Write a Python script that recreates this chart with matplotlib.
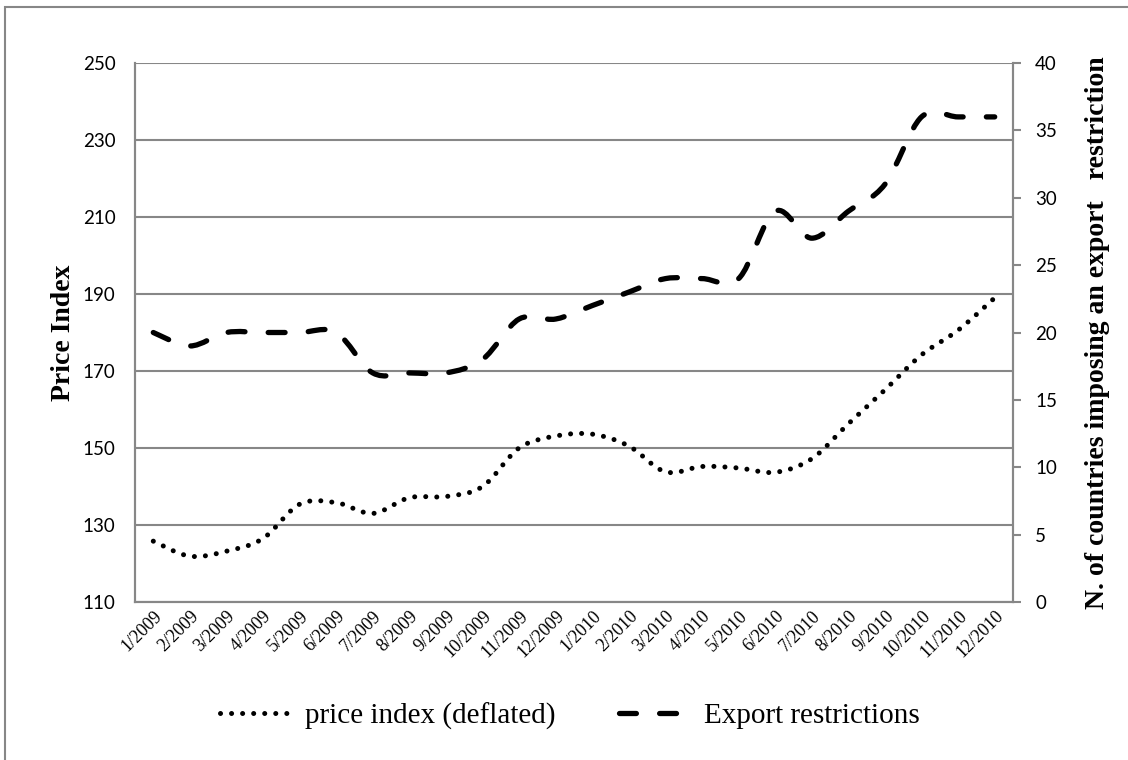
import matplotlib
matplotlib.use("Agg")
import matplotlib.pyplot as plt
from matplotlib.path import Path
from matplotlib.patches import PathPatch, Rectangle
from matplotlib.lines import Line2D
import numpy as np

# data
months = ["1/2009", "2/2009", "3/2009", "4/2009", "5/2009", "6/2009",
          "7/2009", "8/2009", "9/2009", "10/2009", "11/2009", "12/2009",
          "1/2010", "2/2010", "3/2010", "4/2010", "5/2010", "6/2010",
          "7/2010", "8/2010", "9/2010", "10/2010", "11/2010", "12/2010"]
price_index = [125.8, 121.9, 123.2, 126.5, 135.4, 135.8,
               133.0, 137.1, 137.4, 140.0, 150.0, 153.1,
               153.6, 150.5, 143.8, 145.2, 144.8, 143.7,
               147.2, 156.3, 165.1, 174.2, 180.6, 189.0]
export_restrictions = [20, 19, 20, 20, 20, 20, 17, 17, 17, 18, 21, 21,
                       22, 23, 24, 24, 24, 29, 27, 29, 31, 36, 36, 36]

GRID = "#878787"
SERIF = ["Liberation Serif", "DejaVu Serif"]
SANS = ["Lato", "DejaVu Sans"]


def smooth_path(xs, ys):
    # Excel style "smoothed line": cubic bezier through every point
    pts = np.column_stack([xs, ys]).astype(float)
    n = len(pts)
    verts = [pts[0]]
    codes = [Path.MOVETO]
    for i in range(n - 1):
        p0 = pts[i - 1] if i > 0 else pts[i]
        p1 = pts[i]
        p2 = pts[i + 1]
        p3 = pts[i + 2] if i + 2 < n else pts[i + 1]
        c1 = p1 + (p2 - p0) / 6.0
        c2 = p2 - (p3 - p1) / 6.0
        verts += [c1, c2, p2]
        codes += [Path.CURVE4] * 3
    return Path(verts, codes)


fig = plt.figure(figsize=(11.28, 7.6), dpi=100)
fig.add_artist(Rectangle((5 / 1128, -0.1), 1.2, 1 - 7 / 760 + 0.1,
                         transform=fig.transFigure, fill=False,
                         edgecolor=GRID, lw=1.5))

ax = fig.add_axes([135 / 1128, 1 - 602 / 760, 878 / 1128, 539 / 760])
ax2 = ax.twinx()

x = np.arange(len(months))
ax.set_xlim(-0.5, len(months) - 0.5)
ax.set_ylim(110, 250)
ax.set_yticks(np.arange(110, 251, 20))
ax2.set_ylim(0, 40)
ax2.set_yticks(np.arange(0, 41, 5))

ax.grid(axis="y", color=GRID, lw=1.5)
ax.set_axisbelow(True)
for sp in list(ax.spines.values()) + list(ax2.spines.values()):
    sp.set_color(GRID)
    sp.set_linewidth(1.5)
ax.spines["top"].set_visible(False)
ax2.spines["top"].set_visible(False)

ax.tick_params(axis="y", length=0, pad=14, labelsize=13.5,
               labelfontfamily=SANS)
ax.tick_params(axis="x", length=0, pad=4)
ax2.tick_params(axis="y", direction="out", length=6, width=1.5, color=GRID,
                pad=10, labelsize=13.5, labelfontfamily=SANS)

ax.set_xticks(x)
ax.set_xticklabels(months, rotation=45, ha="right", rotation_mode="anchor",
                   family=SERIF, fontsize=13)

ax.set_ylabel("Price Index", family=SERIF, fontweight="bold", fontsize=20,
              labelpad=5)
ax2.set_ylabel("N. of countries imposing an export   restriction", family=SERIF,
               fontweight="bold", fontsize=20, labelpad=20)

price_style = dict(fill=False, edgecolor="black", lw=3.6,
                   linestyle=(0, (0.01, 2.2)), capstyle="round")
export_style = dict(fill=False, edgecolor="black", lw=3.8,
                    linestyle=(0, (3.2, 4.4)), capstyle="round",
                    joinstyle="round")

ax.add_patch(PathPatch(smooth_path(x, price_index), **price_style))
ax2.add_patch(PathPatch(smooth_path(x, export_restrictions), **export_style))

handles = [
    Line2D([], [], color="black", lw=3.6, linestyle=(0, (0.01, 2.2)),
           dash_capstyle="round"),
    Line2D([], [], color="black", lw=3.8, linestyle=(0, (3.2, 4.4)),
           dash_capstyle="round"),
]
fig.legend(handles, ["price index (deflated)", "Export restrictions"],
           loc="center", bbox_to_anchor=(570 / 1128, 1 - 716 / 760),
           ncol=2, frameon=False, handlelength=2.4, handletextpad=0.5,
           columnspacing=2.2, prop={"family": SERIF, "size": 21})

fig.savefig("out.png", dpi=100)
